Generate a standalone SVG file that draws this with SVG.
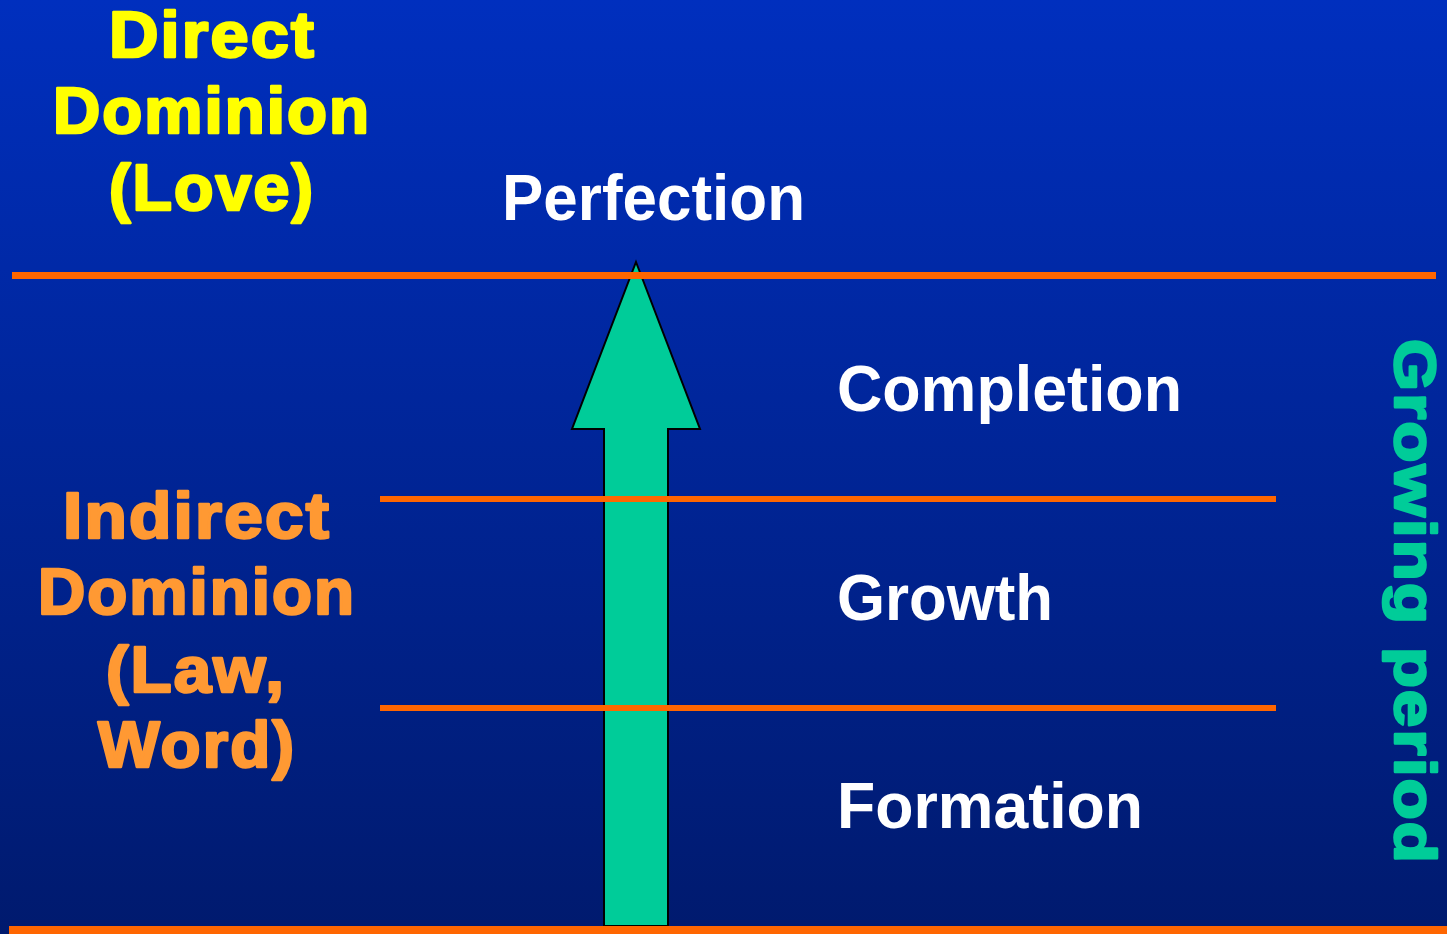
<svg xmlns="http://www.w3.org/2000/svg" width="1447" height="934" viewBox="0 0 1447 934">
  <defs>
    <linearGradient id="bg" x1="0" y1="0" x2="0" y2="1">
      <stop offset="0" stop-color="#002FBE"/>
      <stop offset="1" stop-color="#001A6E"/>
    </linearGradient>
    <style>
      .w { font-family: "Liberation Sans", Arial, sans-serif; font-weight: bold; font-size: 64px; fill: #FFFFFF; }
      .heavy { font-family: "Liberation Sans", Arial, sans-serif; font-weight: bold; font-size: 64px; stroke-width: 2.6; stroke-linejoin: round; letter-spacing: 2px; }
      .yel { fill: #FFFF00; stroke: #FFFF00; }
      .org { fill: #FF9933; stroke: #FF9933; }
      .grn { fill: #00CC99; stroke: #00CC99; }
      .line { fill: #FF6600; }
    </style>
  </defs>
  <rect x="0" y="0" width="1447" height="934" fill="url(#bg)"/>

  <g id="arrow">
    <polygon points="636,262 700,429 668,429 668,926 604,926 604,429 572,429" fill="#00CC99" stroke="#000000" stroke-width="2" stroke-linejoin="miter"/>
  </g>

  <g id="connectors">
    <rect class="line" x="12" y="272" width="1424" height="7"/>
    <rect class="line" x="380" y="496" width="896" height="6"/>
    <rect class="line" x="380" y="705" width="896" height="6"/>
    <rect class="line" x="9" y="926" width="1438" height="8"/>
  </g>

  <g id="direct-dominion">
    <text class="heavy yel" x="109" y="57" textLength="207" lengthAdjust="spacingAndGlyphs">Direct</text>
    <text class="heavy yel" x="53" y="133" textLength="318" lengthAdjust="spacingAndGlyphs">Dominion</text>
    <text class="heavy yel" x="109" y="210" textLength="206" lengthAdjust="spacingAndGlyphs">(Love)</text>
  </g>

  <g id="indirect-dominion">
    <text class="heavy org" x="63" y="538" textLength="268" lengthAdjust="spacingAndGlyphs">Indirect</text>
    <text class="heavy org" x="38" y="614" textLength="318" lengthAdjust="spacingAndGlyphs">Dominion</text>
    <text class="heavy org" x="106" y="692" textLength="180" lengthAdjust="spacingAndGlyphs">(Law,</text>
    <text class="heavy org" x="98" y="767" textLength="198" lengthAdjust="spacingAndGlyphs">Word)</text>
  </g>

  <g id="perfection">
    <text class="w" x="502" y="220" textLength="303" lengthAdjust="spacingAndGlyphs">Perfection</text>
  </g>
  <g id="completion">
    <text class="w" x="837" y="411" textLength="345" lengthAdjust="spacingAndGlyphs">Completion</text>
  </g>
  <g id="growth">
    <text class="w" x="837" y="620" textLength="216" lengthAdjust="spacingAndGlyphs">Growth</text>
  </g>
  <g id="formation">
    <text class="w" x="837" y="828" textLength="306" lengthAdjust="spacingAndGlyphs">Formation</text>
  </g>

  <g id="growing-period">
    <text class="heavy grn" transform="translate(1395,339) rotate(90)" x="0" y="0" style="font-size:58px" textLength="526" lengthAdjust="spacingAndGlyphs">Growing period</text>
  </g>
</svg>
